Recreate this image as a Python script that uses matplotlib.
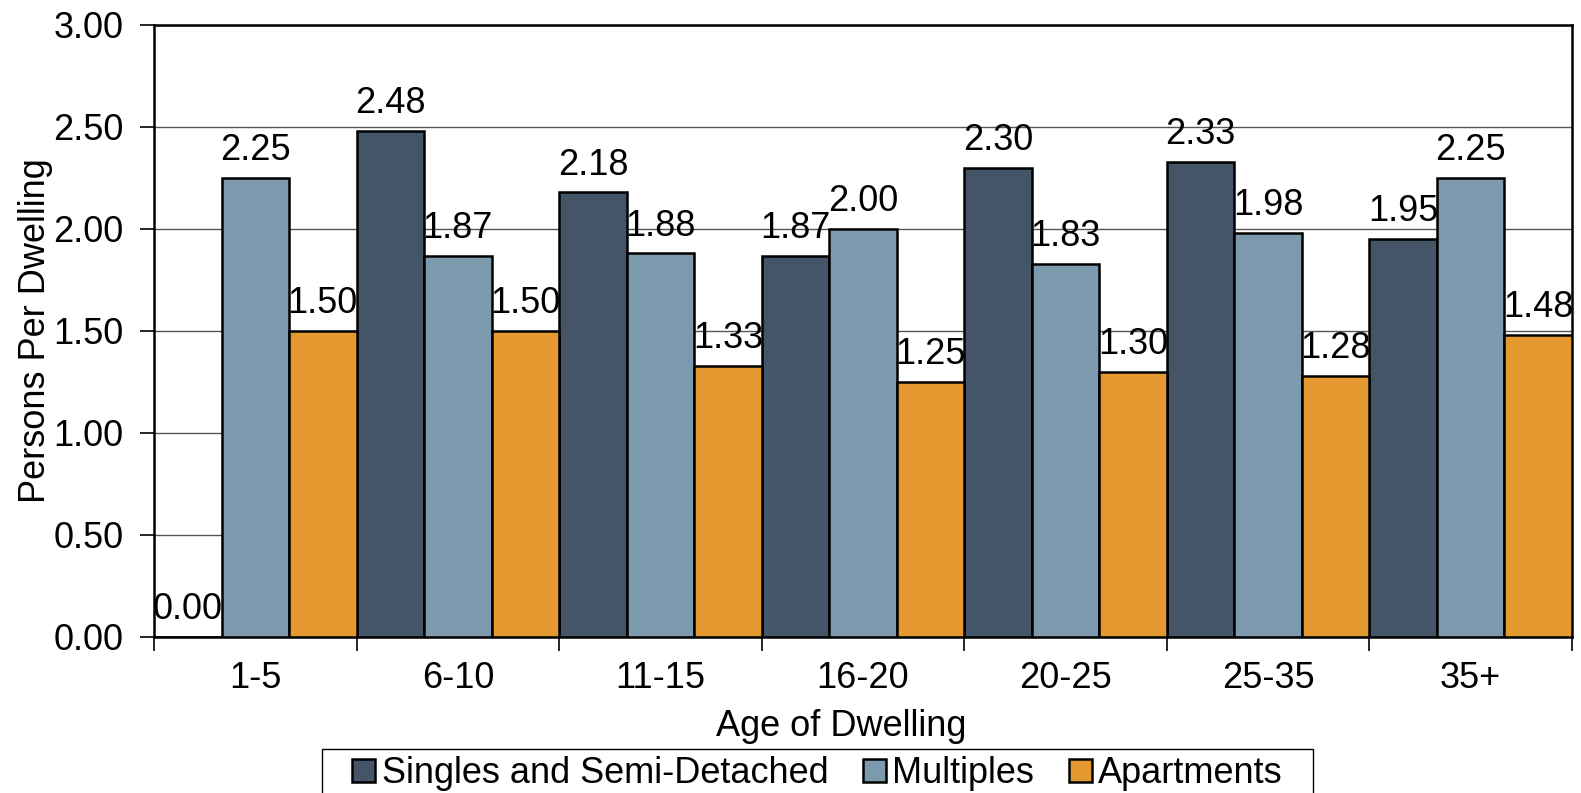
import matplotlib.pyplot as plt
from matplotlib.patches import Rectangle
import numpy as np

plt.rcParams['font.family'] = ['Liberation Sans', 'DejaVu Sans']

# data
categories = ['1-5', '6-10', '11-15', '16-20', '20-25', '25-35', '35+']
singles = [0.00, 2.48, 2.18, 1.87, 2.30, 2.33, 1.95]
multiples = [2.25, 1.87, 1.88, 2.00, 1.83, 1.98, 2.25]
apartments = [1.50, 1.50, 1.33, 1.25, 1.30, 1.28, 1.48]

series = [('Singles and Semi-Detached', singles, '#435566'),
          ('Multiples', multiples, '#7D99AE'),
          ('Apartments', apartments, '#E3992F')]

fs = 26

fig = plt.figure(figsize=(15.81, 7.93), dpi=100)
ax = fig.add_axes([154 / 1581, 1 - 637 / 793, 1418 / 1581, 612 / 793])

x = np.arange(len(categories))
w = 1 / 3
for i, (name, vals, col) in enumerate(series):
    bars = ax.bar(x + (i - 1) * w, vals, w, color=col, edgecolor='black',
                  linewidth=1.8, label=name, zorder=3)
    ax.bar_label(bars, labels=['%.2f' % v for v in vals], padding=7,
                 fontsize=fs, zorder=4)

ax.set_xlim(-0.5, len(categories) - 0.5)
ax.set_ylim(0, 3)
ax.set_yticks(np.arange(0, 3.01, 0.5))
ax.set_yticklabels(['%.2f' % v for v in np.arange(0, 3.01, 0.5)], fontsize=fs)
ax.yaxis.grid(True, color='#555555', linewidth=1, zorder=0)

# category labels centred, ticks on the boundaries
ax.set_xticks(np.arange(-0.5, len(categories), 1))
ax.set_xticklabels([])
ax.set_xticks(x, minor=True)
ax.set_xticklabels(categories, minor=True, fontsize=fs)
ax.tick_params(axis='x', which='minor', length=0, pad=17)
ax.tick_params(axis='x', which='major', length=10, width=1.2)
ax.tick_params(axis='y', length=10, width=1.2, pad=12)

for s in ax.spines.values():
    s.set_linewidth(1.8)

ax.set_xlabel('Age of Dwelling', fontsize=fs)
ax.xaxis.set_label_coords(0.4845, -0.1176)
ax.set_ylabel('Persons Per Dwelling', fontsize=fs)
ax.yaxis.set_label_coords(-0.0712, 0.5)

leg = ax.legend(loc='upper center', bbox_to_anchor=(0.468, -0.183), ncol=3,
                fontsize=fs, frameon=False,
                handlelength=0.64, handleheight=0.64, handletextpad=0.18,
                columnspacing=0.95, borderpad=0.2, borderaxespad=0)

# legend box: wider side padding than top/bottom, as in the original
fig.canvas.draw()
bb = leg.get_window_extent().transformed(fig.transFigure.inverted())
padx = 23 / 1581
fig.patches.append(Rectangle((bb.x0 - padx, bb.y0), bb.width + 2 * padx,
                             bb.height, transform=fig.transFigure,
                             fill=False, edgecolor='black', linewidth=1))

fig.savefig('out.png', dpi=100)
